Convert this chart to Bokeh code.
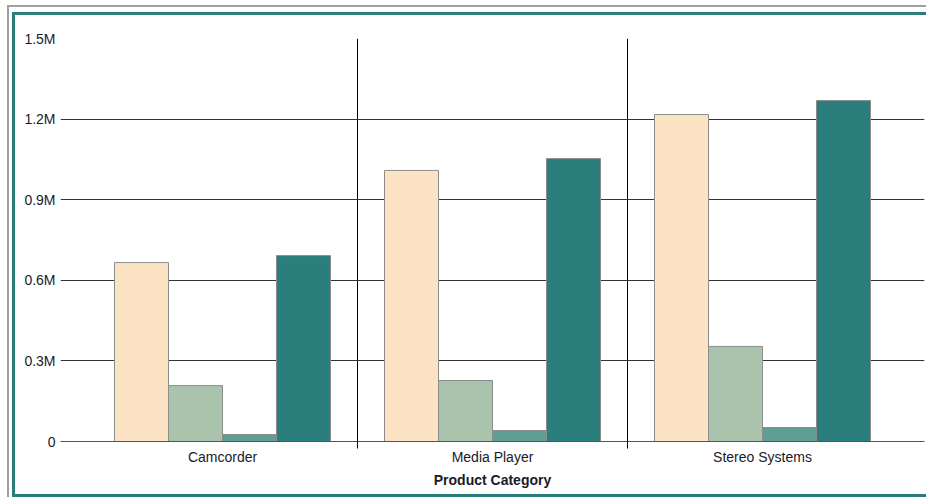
from bokeh.plotting import figure
from bokeh.models import Range1d, FixedTicker, ColumnDataSource
from bokeh.transform import dodge
from bokeh.layouts import column
from bokeh.embed import file_html
from bokeh.resources import INLINE

categories = ["Camcorder", "Media Player", "Stereo Systems"]
series_a = [666000, 1009000, 1217000]
series_b = [208000, 227000, 354000]
series_c = [26000, 41000, 52000]
series_d = [692000, 1053000, 1269000]
y_ticks = [0, 300000, 600000, 900000, 1200000, 1500000]
y_tick_labels = ["0", "0.3M", "0.6M", "0.9M", "1.2M", "1.5M"]
colors = ["#FCE3C3", "#AAC3AD", "#5E9F94", "#2A7F7C"]
offsets = [-0.3, -0.1, 0.1, 0.3]

src = ColumnDataSource(dict(
    x=list(range(len(categories))),
    a=series_a, b=series_b, c=series_c, d=series_d,
))

p = figure(width=914, height=485, output_backend="svg", toolbar_location=None,
           x_range=Range1d(-0.6, 2.6), y_range=Range1d(0, 1500000),
           min_border_left=45, min_border_right=5, min_border_top=23,
           min_border_bottom=59)
p.styles = {"border-top": "3px solid #2A7F7C",
            "border-left": "3px solid #2A7F7C",
            "border-bottom": "3px solid #2A7F7C"}
p.outline_line_color = None

for key, col, off in zip(["a", "b", "c", "d"], colors, offsets):
    p.vbar(x=dodge("x", off, range=p.x_range), top=key, width=0.2, source=src,
           fill_color=col, line_color="#8C8C8C", line_width=1)

xa = p.xaxis[0]
xa.ticker = FixedTicker(ticks=list(range(len(categories))), minor_ticks=[0.5, 1.5])
xa.major_label_overrides = {i: c for i, c in enumerate(categories)}
xa.major_tick_line_color = None
xa.major_tick_out = 0
xa.minor_tick_in = 0
xa.minor_tick_out = 7
xa.minor_tick_line_color = "black"
xa.axis_line_color = "#555555"
xa.major_label_text_font = "Liberation Sans"
xa.major_label_text_font_size = "14px"
xa.major_label_text_color = "#1A1A2A"
xa.major_label_standoff = 0
xa.axis_label = "Product Category"
xa.axis_label_text_font = "Liberation Sans"
xa.axis_label_text_font_size = "14px"
xa.axis_label_text_font_style = "bold"
xa.axis_label_text_color = "#1A1A2A"
xa.axis_label_standoff = 4

ya = p.yaxis[0]
ya.ticker = FixedTicker(ticks=y_ticks)
ya.major_label_overrides = {t: l for t, l in zip(y_ticks, y_tick_labels)}
ya.axis_line_color = None
ya.major_tick_line_color = None
ya.major_tick_out = 0
ya.minor_tick_line_color = None
ya.major_label_standoff = 5
ya.major_label_text_font = "Liberation Sans"
ya.major_label_text_font_size = "14px"
ya.major_label_text_color = "#1A1A2A"

p.xgrid.ticker = FixedTicker(ticks=[0.5, 1.5])
p.xgrid.grid_line_color = "black"
p.ygrid.ticker = FixedTicker(ticks=y_ticks)
p.ygrid.grid_line_color = "#333333"

lay = column(p, styles={"border-top": "2px solid #A0A0A0",
                        "border-left": "2px solid #A0A0A0",
                        "padding-top": "5px", "padding-left": "3px",
                        "margin-top": "5px", "margin-left": "7px"})

open("out.html", "w").write(file_html(lay, INLINE))
